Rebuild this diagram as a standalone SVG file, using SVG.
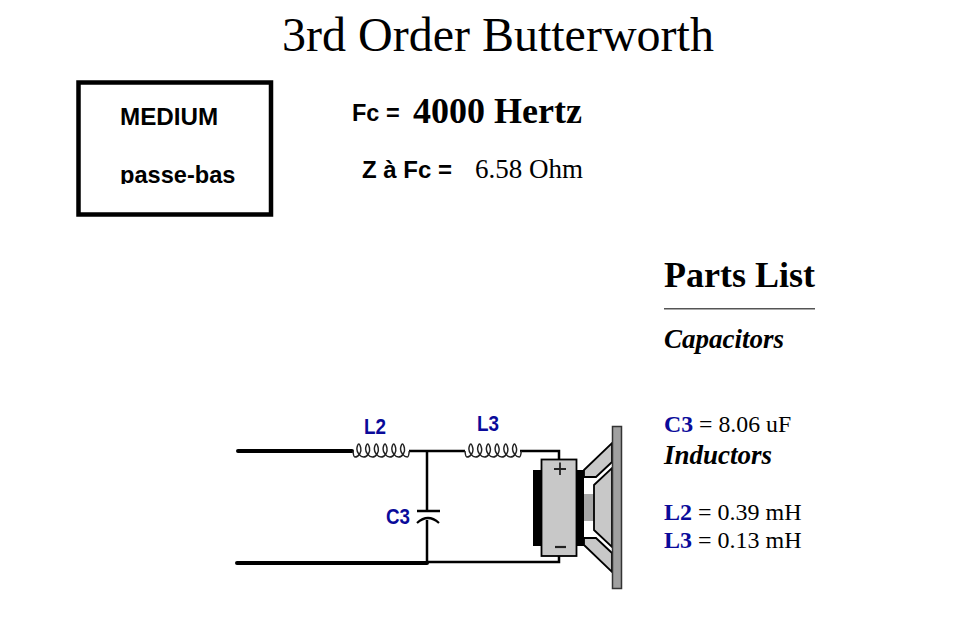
<svg xmlns="http://www.w3.org/2000/svg" width="969" height="641" viewBox="0 0 969 641">
<style>
.s{font-family:"Liberation Serif","Times New Roman",serif;fill:#000}
.a{font-family:"Liberation Sans",Arial,sans-serif;font-weight:700;fill:#000}
.b{fill:#0a0a9a}
.w{fill:none;stroke:#000;stroke-width:2.5}
.t{fill:none;stroke:#000;stroke-width:4;stroke-linecap:round}
.c{fill:none;stroke:#222;stroke-width:1.5}
.g{fill:#c8c8c8;stroke:#000;stroke-width:1.8}
</style>
<defs>
<path id="coil" class="c" d="M0 0q.5 6 2 6c4 0 7-5 6-9c-.5-2-1.500-4-2-4c-1 0-2 3-2 5c0 3 3 8 7 8c4 0 7-5 6-9c-.5-2-1.500-4-2-4c-1 0-2 3-2 5c0 3 3 8 7 8c4 0 7-5 6-9c-.5-2-1.500-4-2-4c-1 0-2 3-2 5c0 3 3 8 7 8c4 0 7-5 6-9c-.5-2-1.500-4-2-4c-1 0-2 3-2 5c0 3 3 8 7 8c4 0 7-5 6-9c-.5-2-1.500-4-2-4c-1 0-2 3-2 5c0 3 3 8 7 8c4 0 7-5 6-9c-.5-2-1.500-4-2-4c-1 0-2 3-2 5c0 3 3 8 7 8q1.500 0 2-6"/>
<clipPath id="clip"><rect x="100" y="150" width="160" height="34"/></clipPath>
</defs>
<text class="s" x="282" y="51" font-size="48">3rd Order Butterworth</text>
<g id="label-box">
<rect x="78.500" y="82.500" width="192.500" height="132" fill="#fff" stroke="#000" stroke-width="4.500"/>
<text class="a" x="120" y="125" font-size="24.200">MEDIUM</text>
<text class="a" x="120" y="183" font-size="23.600" clip-path="url(#clip)">passe-bas</text>
</g>
<g id="values">
<text class="a" x="352" y="121" font-size="23.500">Fc =</text>
<text class="s" x="413" y="123" font-size="36" font-weight="700">4000 Hertz</text>
<text class="a" x="362" y="178" font-size="24">Z à Fc =</text>
<text class="s" x="475" y="178" font-size="27">6.58 Ohm</text>
</g>
<g id="parts-list">
<text class="s" x="664" y="287" font-size="36" font-weight="700">Parts List</text>
<rect x="664" y="308" width="151" height="1.500" fill="#555"/>
<text class="s" x="664" y="348" font-size="27" font-weight="700" font-style="italic">Capacitors</text>
<text class="s" x="664" y="432" font-size="23.800"><tspan class="b" font-weight="700">C3</tspan> = 8.06 uF</text>
<text class="s" x="664" y="464" font-size="27" font-weight="700" font-style="italic">Inductors</text>
<text class="s" x="664" y="520" font-size="24"><tspan class="b" font-weight="700">L2</tspan> = 0.39 mH</text>
<text class="s" x="664" y="548" font-size="24"><tspan class="b" font-weight="700">L3</tspan> = 0.13 mH</text>
</g>
<g id="connectors">
<path class="t" d="M238 451H352M237 563H427"/>
<path class="w" d="M409 451H465M427 451V511M427 520V563M427 562H559V556M520 451H559V459"/>
</g>
<g id="L2">
<use href="#coil" transform="translate(353 451) scale(.97 1)"/>
<text class="a b" x="364" y="434" font-size="22" textLength="22" lengthAdjust="spacingAndGlyphs">L2</text>
</g>
<g id="L3">
<use href="#coil" transform="translate(465 451) scale(.97 1)"/>
<text class="a b" x="477" y="431" font-size="22" textLength="22" lengthAdjust="spacingAndGlyphs">L3</text>
</g>
<g id="C3">
<path d="M417 511H440" stroke="#000" stroke-width="2.500" fill="none"/>
<path d="M417 523Q428 513 439 523" stroke="#000" stroke-width="2.200" fill="none"/>
<text class="a b" x="386" y="524" font-size="22" textLength="24" lengthAdjust="spacingAndGlyphs">C3</text>
</g>
<g id="speaker">
<rect x="533" y="470" width="8" height="76" fill="#000"/>
<rect x="576" y="470" width="8" height="76" fill="#000"/>
<rect class="g" x="541.500" y="459.500" width="35" height="96.500"/>
<path d="M554 469H566M560 462.500V475" stroke="#222" stroke-width="1.800" fill="none"/>
<path d="M555 547H566" stroke="#222" stroke-width="2.200" fill="none"/>
<rect x="584" y="494" width="10" height="27" fill="#a8a8a8"/>
<path class="g" d="M584 470L612 443V462L596 477H584Z"/>
<path class="g" d="M584 545L612 572V553L596 538H584Z"/>
<path class="g" d="M594 485L612 468V547L594 530Z"/>
<rect x="612.500" y="426.500" width="9" height="162" fill="#a0a0a0" stroke="#333" stroke-width="1.500"/>
</g>
</svg>
